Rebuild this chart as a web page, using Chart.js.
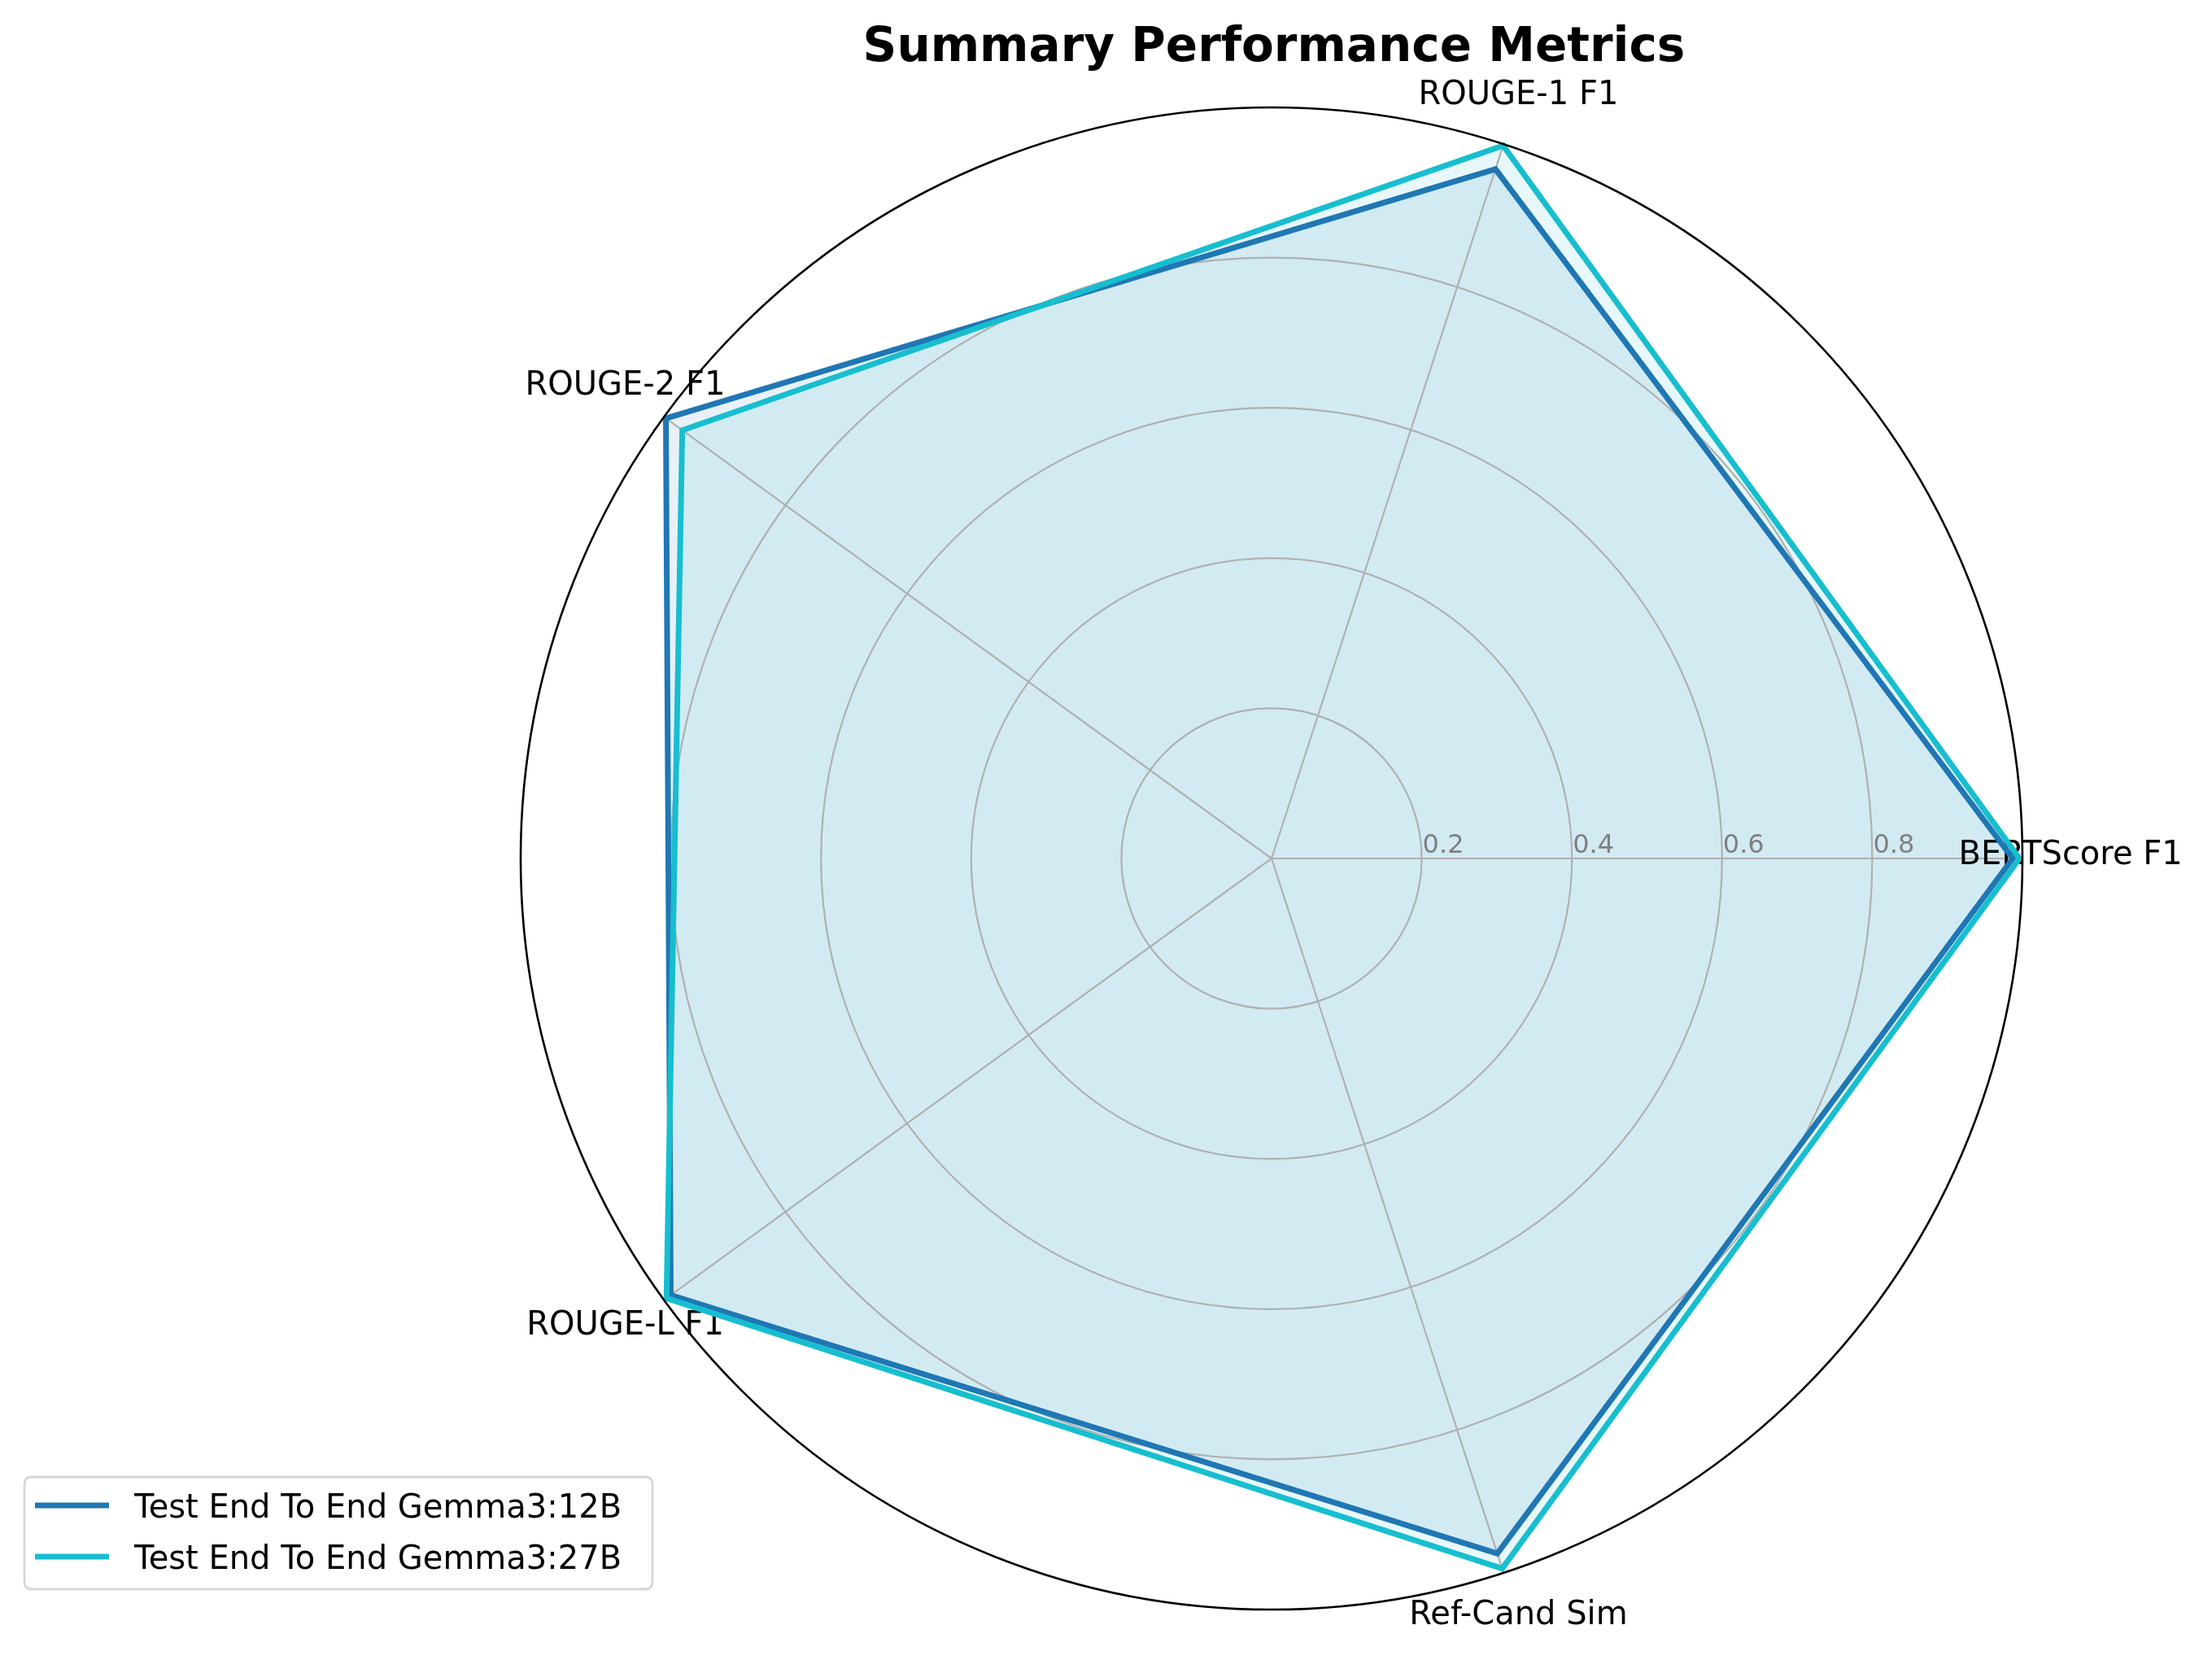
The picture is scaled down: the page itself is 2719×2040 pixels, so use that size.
<!DOCTYPE html>
<html>
<head>
<meta charset="utf-8">
<script src="https://cdn.jsdelivr.net/npm/chart.js@4.4.0/dist/chart.umd.min.js"></script>
<style>
  html, body { margin: 0; padding: 0; background: #ffffff; }
  #wrap { width: 2719px; height: 2040px; position: relative; }
  canvas { display: block; }
</style>
</head>
<body>
<div id="wrap"><canvas id="c" width="2719" height="2040" style="width:2719px;height:2040px"></canvas></div>
<script>
// Categories in clockwise order starting at the east axis
const categories = ["BERTScore F1", "Ref-Cand Sim", "ROUGE-L F1", "ROUGE-2 F1", "ROUGE-1 F1"];
const seriesNames = ["Test End To End Gemma3:12B", "Test End To End Gemma3:27B"];
const gemma12b = [0.987, 0.973, 0.989, 0.997, 0.965];
const gemma27b = [0.996, 0.994, 0.996, 0.970, 0.998];
const tickValues = [0.2, 0.4, 0.6, 0.8];
const tickLabels = ["0.2", "0.4", "0.6", "0.8"];
const chartTitle = "Summary Performance Metrics";

const BLUE = "#1f77b4";
const CYAN = "#17becf";
const FONT = '"DejaVu Sans", "Liberation Sans", sans-serif';

const decor = {
  id: "decor",
  beforeDatasetsDraw(chart) {
    const ctx = chart.ctx;
    const s = chart.scales.r;
    ctx.save();
    ctx.fillStyle = "#000000";
    ctx.font = "40px " + FONT;
    ctx.textAlign = "center";
    ctx.textBaseline = "middle";
    categories.forEach((c, i) => {
      const p = s.getPointPositionForValue(i, 1.064);
      ctx.fillText(c, p.x, p.y - 3);
    });
    ctx.restore();
  },
  afterDatasetsDraw(chart) {
    const ctx = chart.ctx;
    const s = chart.scales.r;
    ctx.save();
    // outer spine
    ctx.beginPath();
    ctx.arc(s.xCenter, s.yCenter, s.getDistanceFromCenterForValue(s.max), 0, Math.PI * 2);
    ctx.strokeStyle = "#000000";
    ctx.lineWidth = 2.6;
    ctx.stroke();
    // radial tick labels
    ctx.fillStyle = "#808080";
    ctx.font = "32px " + FONT;
    ctx.textAlign = "left";
    ctx.textBaseline = "alphabetic";
    tickValues.forEach((v, i) => {
      const d = s.getDistanceFromCenterForValue(v);
      ctx.fillText(tickLabels[i], s.xCenter + d + 1, s.yCenter - 7);
    });
    // title
    ctx.fillStyle = "#000000";
    ctx.font = "bold 58px " + FONT;
    ctx.textAlign = "center";
    ctx.fillText(chartTitle, s.xCenter + 3, 75);
    // legend
    const lx = 30, ly = 1815, lw = 772, lh = 138, rr = 9;
    ctx.beginPath();
    ctx.moveTo(lx + rr, ly);
    ctx.lineTo(lx + lw - rr, ly);
    ctx.quadraticCurveTo(lx + lw, ly, lx + lw, ly + rr);
    ctx.lineTo(lx + lw, ly + lh - rr);
    ctx.quadraticCurveTo(lx + lw, ly + lh, lx + lw - rr, ly + lh);
    ctx.lineTo(lx + rr, ly + lh);
    ctx.quadraticCurveTo(lx, ly + lh, lx, ly + lh - rr);
    ctx.lineTo(lx, ly + rr);
    ctx.quadraticCurveTo(lx, ly, lx + rr, ly);
    ctx.closePath();
    ctx.fillStyle = "rgba(255,255,255,0.8)";
    ctx.fill();
    ctx.strokeStyle = "#d6d6d6";
    ctx.lineWidth = 2.8;
    ctx.stroke();
    const colors = [BLUE, CYAN];
    const rows = [1850, 1913];
    ctx.font = "40px " + FONT;
    ctx.textAlign = "left";
    ctx.textBaseline = "alphabetic";
    seriesNames.forEach((n, i) => {
      ctx.beginPath();
      ctx.moveTo(43, rows[i]);
      ctx.lineTo(134, rows[i]);
      ctx.strokeStyle = colors[i];
      ctx.lineWidth = 7;
      ctx.lineCap = "butt";
      ctx.stroke();
      ctx.fillStyle = "#000000";
      ctx.fillText(n, 165, rows[i] + 15);
    });
    ctx.restore();
  }
};

new Chart(document.getElementById("c"), {
  type: "radar",
  data: {
    labels: categories,
    datasets: [
      {
        label: seriesNames[0],
        data: gemma12b,
        borderColor: BLUE,
        backgroundColor: "rgba(31,119,180,0.1)",
        borderWidth: 7,
        fill: true,
        pointRadius: 0,
        pointHoverRadius: 0,
        borderJoinStyle: "miter",
        order: 2
      },
      {
        label: seriesNames[1],
        data: gemma27b,
        borderColor: CYAN,
        backgroundColor: "rgba(23,190,207,0.1)",
        borderWidth: 7,
        fill: true,
        pointRadius: 0,
        pointHoverRadius: 0,
        borderJoinStyle: "miter",
        order: 1
      }
    ]
  },
  options: {
    responsive: false,
    devicePixelRatio: 1,
    animation: false,
    layout: { padding: { left: 640, right: 233, top: 132, bottom: 62 } },
    plugins: {
      legend: { display: false },
      title: { display: false },
      tooltip: { enabled: false },
      filler: { drawTime: "beforeDraw" }
    },
    scales: {
      r: {
        min: 0,
        max: 1,
        startAngle: 90,
        ticks: { display: false, stepSize: 0.2 },
        pointLabels: { display: false },
        angleLines: { display: true, color: "#b0b0b0", lineWidth: 2.2 },
        grid: {
          circular: true,
          color: (c) => (c.tick && Math.abs(c.tick.value - 1) < 1e-6) ? "rgba(0,0,0,0)" : "#b0b0b0",
          lineWidth: 2.2
        }
      }
    }
  },
  plugins: [decor]
});
</script>
</body>
</html>
